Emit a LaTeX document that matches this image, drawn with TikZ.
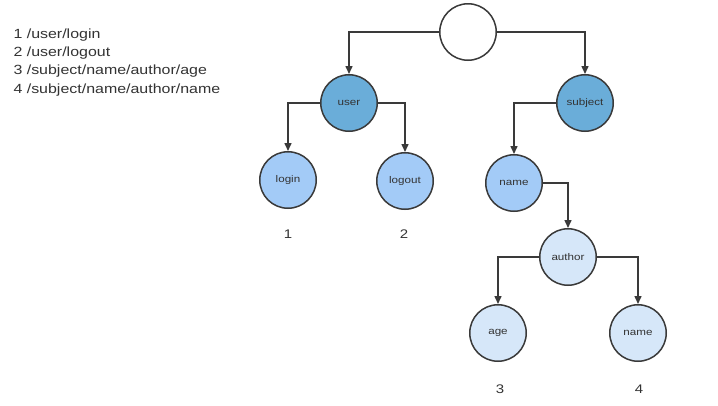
\documentclass[tikz,border=0pt]{standalone}
\usepackage{fontspec}
\setmainfont{Liberation Sans}
\newfontfamily\widefont[FakeStretch=1.2]{Liberation Sans}
\usetikzlibrary{arrows.meta}
\definecolor{edgec}{HTML}{3A3A3A}
\definecolor{darkb}{HTML}{6AADD9}
\definecolor{midb}{HTML}{A3CBF7}
\definecolor{lightb}{HTML}{D6E7F9}
\definecolor{txt}{HTML}{333333}
\begin{document}
\begin{tikzpicture}[x=1pt,y=-1pt,
  treenode/.style={circle,draw=edgec,line width=1.5pt,minimum size=56.5pt,inner sep=0pt,text=txt,font=\widefont\fontsize{9.7}{12}\selectfont},
  conn/.style={draw=edgec,line width=1.5pt,-{Triangle[length=8pt,width=7pt]}},
  numlab/.style={text=txt,font=\widefont\fontsize{12.5}{14}\selectfont},
  pathlab/.style={anchor=west,text=txt,font=\widefont\fontsize{13.3}{15}\selectfont}]
\useasboundingbox[fill=white] (0,0) rectangle (718,405);
\node[pathlab] (p1) at (10,35) {1 /user/login};
\node[pathlab] (p2) at (10,53) {2 /user/logout};
\node[pathlab] (p3) at (10,71) {3 /subject/name/author/age};
\node[pathlab] (p4) at (10,90) {4 /subject/name/author/name};

\node[treenode,fill=white] (root) at (468,32) {};
\node[treenode,fill=darkb] (user) at (349,103) {user};
\node[treenode,fill=darkb] (subject) at (585,103) {subject};
\node[treenode,fill=midb] (login) at (288,180) {login};
\node[treenode,fill=midb] (logout) at (405,181) {logout};
\node[treenode,fill=midb] (name) at (514,183) {name};
\node[treenode,fill=lightb] (author) at (568,257) {author};
\node[treenode,fill=lightb] (age) at (498,333) {age};
\node[treenode,fill=lightb] (name2) at (638,333) {name};

\node[numlab] (n1) at (288,234) {1};
\node[numlab] (n2) at (404,234) {2};
\node[numlab] (n3) at (500,389) {3};
\node[numlab] (n4) at (639,389) {4};

\draw[conn] (root.west) -| (user.north);
\draw[conn] (root.east) -| (subject.north);
\draw[conn] (user.west) -| (login.north);
\draw[conn] (user.east) -| (logout.north);
\draw[conn] (subject.west) -| (name.north);
\draw[conn] (name.east) -| (author.north);
\draw[conn] (author.west) -| (age.north);
\draw[conn] (author.east) -| (name2.north);
\end{tikzpicture}
\end{document}
